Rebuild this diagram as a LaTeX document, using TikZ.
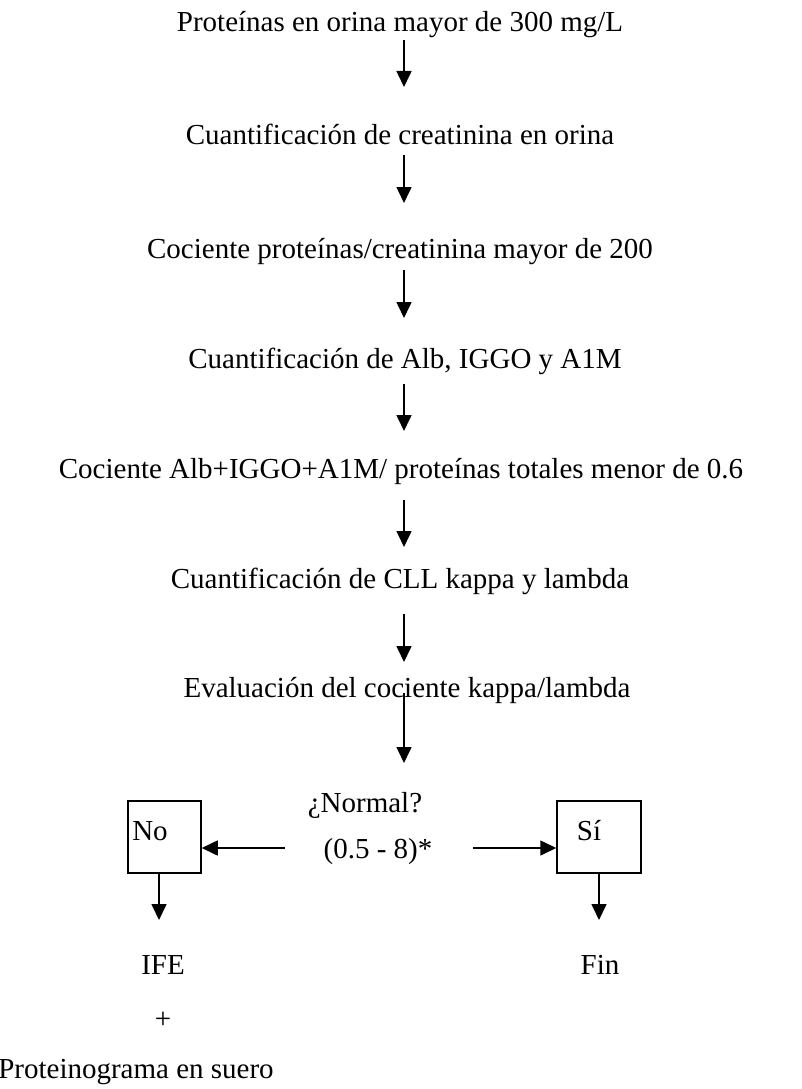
\documentclass[tikz,border=0pt]{standalone}
\usepackage{fontspec}
\setmainfont{Liberation Serif}
\usetikzlibrary{arrows.meta}
\begin{document}
\begin{tikzpicture}[x=1pt,y=-1pt,
  txt/.style={inner sep=0pt,anchor=base,font=\fontsize{29}{34}\selectfont},
  arr/.style={line width=1.6pt,-{Triangle[width=15pt,length=16pt]}},
  box/.style={draw,line width=1.5pt,minimum height=72pt,inner sep=0pt}]
\useasboundingbox (0,0) rectangle (801,1089);

% main sequence of steps
\node[txt] (t1) at (400,32)  {Proteínas en orina mayor de 300 mg/L};
\node[txt] (t2) at (400,145) {Cuantificación de creatinina en orina};
\node[txt] (t3) at (400,258) {Cociente proteínas/creatinina mayor de 200};
\node[txt] (t4) at (405,368) {Cuantificación de Alb, IGGO y A1M};
\node[txt] (t5) at (401,478) {Cociente Alb+IGGO+A1M/ proteínas totales menor de 0.6};
\node[txt] (t6) at (400,588) {Cuantificación de CLL kappa y lambda};
\node[txt] (t7) at (407,697) {Evaluación del cociente kappa/lambda};

% decision
\node[txt] (q1) at (365,812) {¿Normal?};
\node[txt] (q2) at (378,858) {(0.5 - 8)*};

% outcome boxes
\node[box,minimum width=73pt] (no) at (164.5,837) {};
\node[txt] at (150,840) {No};
\node[box,minimum width=84pt] (si) at (599,837) {};
\node[txt] at (589,840) {Sí};

% results
\node[txt] (ife) at (163,974)  {IFE};
\node[txt] (plus) at (163,1028) {+};
\node[txt] (prot) at (136,1078) {Proteinograma en suero};
\node[txt] (fin) at (600,974)  {Fin};

% arrow end points
\coordinate (a1s) at (404,40);  \coordinate (a1e) at (404,87);
\coordinate (a2s) at (404,155); \coordinate (a2e) at (404,203);
\coordinate (a3s) at (404,270); \coordinate (a3e) at (404,318);
\coordinate (a4s) at (404,384); \coordinate (a4e) at (404,431);
\coordinate (a5s) at (404,500); \coordinate (a5e) at (404,547);
\coordinate (a6s) at (404,614); \coordinate (a6e) at (404,662);
\coordinate (a7s) at (404,693); \coordinate (a7e) at (404,763);
\coordinate (lq) at (285,848);
\coordinate (rq) at (473,848);
\coordinate (nod) at (159,873); \coordinate (noe) at (159,920);
\coordinate (sid) at (599,873); \coordinate (sie) at (599,920);

\draw[arr] (a1s) -- (a1e);
\draw[arr] (a2s) -- (a2e);
\draw[arr] (a3s) -- (a3e);
\draw[arr] (a4s) -- (a4e);
\draw[arr] (a5s) -- (a5e);
\draw[arr] (a6s) -- (a6e);
\draw[arr] (a7s) -- (a7e);
\draw[arr] (lq) -- (lq -| no.east);
\draw[arr] (rq) -- (rq -| si.west);
\draw[arr] (nod) -- (noe);
\draw[arr] (sid) -- (sie);
\end{tikzpicture}
\end{document}
